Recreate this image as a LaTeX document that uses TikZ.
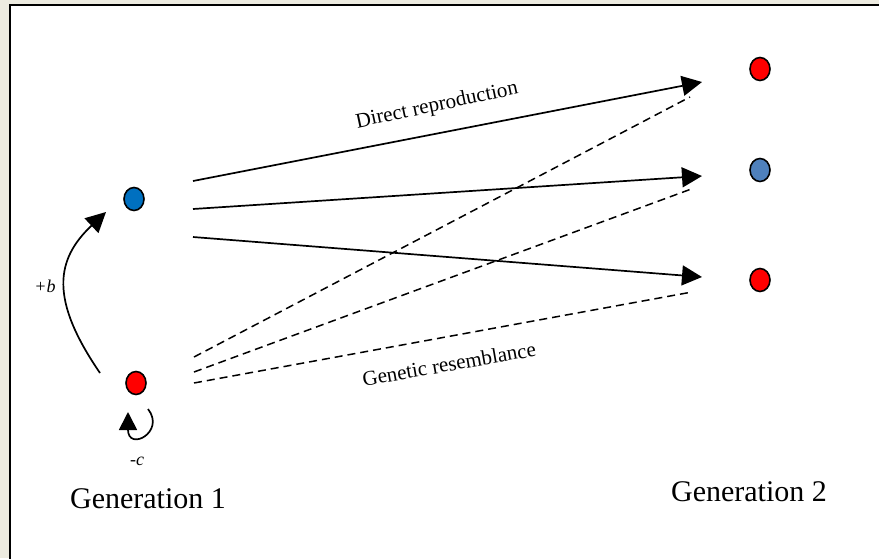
\documentclass[tikz,border=0pt]{standalone}
\usepackage{fontspec}
\setmainfont{Liberation Serif}
\usetikzlibrary{arrows.meta,shapes.geometric}
\definecolor{pagebg}{HTML}{EDEBE0}
\definecolor{dotred}{HTML}{FF0000}
\definecolor{dotblue}{HTML}{0070C0}
\definecolor{dotsteel}{HTML}{4F81BD}

\tikzset{
  dot/.style={draw,line width=1.6pt,ellipse,minimum width=20pt,minimum height=23pt,inner sep=0pt},
  link/.style={line width=1.7pt,-{Triangle[length=20pt,width=20pt]}},
  kin/.style={line width=1.5pt,dash pattern=on 8pt off 5pt},
}

\begin{document}
\begin{tikzpicture}[x=1pt, y=-1pt]
      \clip (0,0) rectangle (879,558);
      \useasboundingbox (0,0) rectangle (879,558);
      \fill[pagebg] (0,0) rectangle (879,558);
      \draw[line width=2.5pt,fill=white] (10,5) rectangle (900,580);
      % generation 1
      \node[dot,fill=dotblue] (g1top) at (134,199) {};
      \node[dot,fill=dotred] (g1bot) at (136,383) {};
      % generation 2
      \node[dot,fill=dotred] (g2a) at (760,69) {};
      \node[dot,fill=dotsteel] (g2b) at (760,170) {};
      \node[dot,fill=dotred] (g2c) at (760,280) {};
      \coordinate (out1) at (193,181);
      \coordinate (out2) at (193,209);
      \coordinate (out3) at (193,237);
      \coordinate (in1) at (702,82);
      \coordinate (in2) at (702,176);
      \coordinate (in3) at (702,277);
      \draw[link] (out1) -- (in1);
      \draw[link] (out2) -- (in2);
      \draw[link] (out3) -- (in3);
      \coordinate (gen1) at (194,357);
      \coordinate (gen2) at (194,372);
      \coordinate (gen3) at (194,383);
      \coordinate (res1) at (690,97);
      \coordinate (res2) at (694,188);
      \coordinate (res3) at (692,292);
      \draw[kin] (gen1) -- (res1);
      \draw[kin] (gen2) -- (res2);
      \draw[kin] (gen3) -- (res3);
      % benefit and cost
      \coordinate (help) at (100,373);
      \coordinate (helped) at (106,212);
      \draw[link] (help) .. controls (50,300) and (55,260) .. (helped);
      \coordinate (loopin) at (148,409);
      \coordinate (loopout) at (128,412);
      \draw[link,-{Triangle[length=18pt,width=18pt]}] (loopin) .. controls (166,432) and (128,452) .. (loopout);
      \node[font=\itshape\fontsize{18}{18}\selectfont] (plusb) at (45,286) {+b};
      \node[font=\itshape\fontsize{18}{18}\selectfont] (minusc) at (137,461) {-c};
      % labels
      \node[rotate=12,font=\fontsize{21}{21}\selectfont] (direct) at (437,106) {Direct reproduction};
      \node[rotate=10,font=\fontsize{21}{21}\selectfont] (genetic) at (449,364) {Genetic resemblance};
      \node[font=\fontsize{30}{30}\selectfont] (gen1lbl) at (148,499) {Generation 1};
      \node[font=\fontsize{30}{30}\selectfont] (gen2lbl) at (749,492) {Generation 2};
    \end{tikzpicture}
\end{document}
